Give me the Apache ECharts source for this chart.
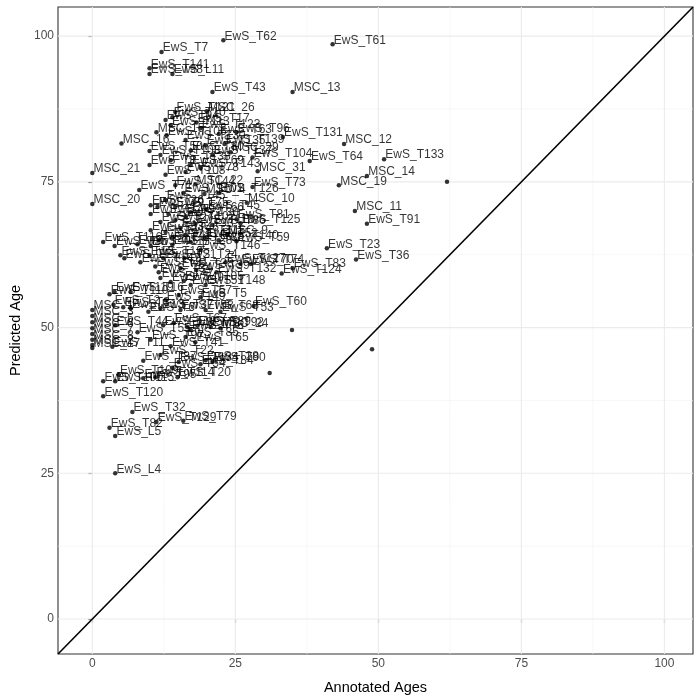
<!DOCTYPE html>
<html><head><meta charset="utf-8">
<script src="https://cdn.jsdelivr.net/npm/echarts@6/dist/echarts.min.js"></script>
<style>html,body{margin:0;padding:0;background:#fff}#c{width:700px;height:700px}</style>
</head><body><div id="c"></div>
<script>
const sampleNames = ["EwS_T62","EwS_T61","EwS_T7","EwS_T141","EwS_T98","EwS_L11","EwS_T43","MSC_13","MSC_26","EwS_T121",
"EwS_T10","EwS_T94","EwS_T17","EwS_T113","EwS_T123","MSC_15","EwS_T96","EwS_T63","EwS_T106","EwS_T131",
"EwS_T130","EwS_T139","MSC_12","MSC_16","EwS_T135","EwS_T50","EwS_T80","MSC_29","EwS_T103","EwS_T137",
"EwS_T104","EwS_T133","EwS_T138","EwS_T64","EwS_T8","EwS_T69","EwS_T143","MSC_31","EwS_T78","MSC_21",
"EwS_T108","MSC_14","","MSC_22","MSC_19","EwS_T144","EwS_T73","EwS_T71","EwS_T101","EwS_T126",
"MSC_4","EwS_T145","MSC_10","MSC_20","EwS_T26","EwS_T9","EwS_T75","EwS_T45","MSC_11","EwS_T66",
"EwS_T14","EwS_T99","EwS_T30","EwS_T81","EwS_T102","EwS_T27","EwS_T125","EwS_T118","EwS_T91","EwS_T86",
"EwS_T93","EwS_T33","EwS_T46","MSC_9","EwS_T111","EwS_T52","EwS_T142","EwS_T140","EwS_T42","EwS_T59",
"EwS_T88","EwS_T116","EwS_T40","EwS_T128","EwS_T35","EwS_T117","EwS_T23","EwS_T146","EwS_T12","EwS_T19",
"EwS_T15","EwS_T21","EwS_T24","EwS_T36","EwS_T127","EwS_T147","EwS_T70","EwS_T74","EwS_T31","EwS_T83",
"EwS_T38","EwS_T39","EwS_T132","EwS_T34","EwS_T124","EwS_T47","EwS_T105","EwS_T49","EwS_T51","EwS_T148",
"EwS_T119","EwS_T16","EwS_T110","EwS_T57","EwS_T5","EwS_T149","EwS_T2","EwS_T60","EwS_T3","EwS_T13",
"EwS_T37","MSC_1","EwS_T58","EwS_T68","EwS_T6","EwS_T53","MSC_3","MSC_5","EwS_T67","EwS_T44",
"EwS_T18","EwS_T89","EwS_T72","EwS_T92","MSC_6","MSC_24","EwS_T76","","EwS_T55","MSC_7",
"EwS_T85","MSC_8","EwS_T97","EwS_T65","MSC_2","EwS_T41","EwS_T11","MSC_17","","EwS_T22",
"EwS_T28","EwS_T87","EwS_T134","EwS_T90","EwS_T84","EwS_T54","","EwS_T109","EwS_T114","EwS_T20",
"EwS_T95","EwS_T100","EwS_T115","EwS_T120","EwS_T32","EwS_T79","EwS_T129","EwS_T82","EwS_L5","EwS_L4"];
const annotatedAges = [22.9,42.0,12.1,10.0,10.0,14.0,21.0,35.0,20.0,14.5,
14.0,12.8,18.2,13.7,18.9,11.2,25.2,22.1,13.0,33.3,
16.3,23.1,44.0,5.1,19.8,10.0,17.2,24.2,11.9,21.0,
28.0,51.0,13.7,38.0,10.0,17.2,18.9,28.9,16.3,0,
12.8,48.0,62.0,18.0,43.1,14.5,28.0,8.2,15.9,22.1,
19.6,12.8,27.0,0,10.2,11.4,14.5,20.0,45.9,17.2,
10.2,13.3,16.3,25.2,14.5,11.9,25.9,18.0,48.0,21.0,
15.4,10.2,12.8,23.5,16.3,19.6,14.0,22.1,11.6,25.2,
17.2,1.9,7.9,14.0,3.9,10.2,41.0,18.9,4.9,10.0,
5.6,12.4,16.1,46.1,23.3,8.4,25.9,27.7,11.0,35.0,
15.4,18.2,21.7,11.6,33.1,11.9,16.0,13.7,17.2,19.8,
3.9,6.7,3.0,15.1,18.9,12.8,3.7,28.2,5.4,6.7,
11.9,0,15.4,19.8,9.8,22.4,0,0,14.2,4.0,
12.4,18.4,16.6,20.7,0,22.4,17.2,34.9,7.9,0,
16.3,0,10.2,18.0,0,13.7,3.5,0,48.9,11.9,
19.8,8.9,15.1,21.0,18.9,14.0,31.0,4.6,11.0,14.9,
8.9,1.9,4.0,1.9,7.0,15.9,11.2,3.0,4.0,4.0];
const predictedAges = [99.3,98.6,97.3,94.5,93.5,93.5,90.4,90.4,87.1,87.0,
86.1,85.6,85.2,84.7,84.2,83.5,83.5,83.2,83.0,82.7,
82.2,81.5,81.5,81.6,81.3,80.3,80.4,80.1,79.6,79.6,
79.2,78.9,78.7,78.6,77.9,77.9,77.4,76.8,76.7,76.5,
76.2,76.0,75.0,74.6,74.4,74.4,74.1,73.6,73.1,73.1,
72.9,71.9,71.4,71.2,71.0,70.7,70.7,70.2,70.0,69.8,
69.5,69.5,69.1,68.6,68.4,68.1,67.9,67.8,67.8,67.6,
67.1,66.7,66.4,66.0,65.9,65.4,65.4,65.0,65.0,64.8,
64.7,64.7,64.3,64.2,64.0,64.0,63.6,63.3,62.4,62.4,
61.9,61.9,61.9,61.7,61.2,61.2,60.9,60.9,60.5,60.2,
60.2,59.9,59.5,59.5,59.3,58.5,58.0,57.8,57.3,57.3,
56.1,56.1,55.7,55.6,55.2,54.7,53.9,53.7,53.5,53.3,
53.3,53.0,53.0,53.0,52.7,52.7,52.0,50.9,50.8,50.4,
50.4,50.3,50.1,50.1,49.9,49.9,49.6,49.6,49.2,48.9,
48.4,47.9,47.9,47.5,47.0,46.8,46.7,46.5,46.3,45.3,
44.4,44.3,44.1,44.1,43.7,43.1,42.2,42.0,41.5,41.5,
41.3,40.8,40.8,38.2,35.5,34.0,33.8,32.8,31.4,25.0];
const tickValues = [0, 25, 50, 75, 100];
const minorValues = [12.5, 37.5, 62.5, 87.5];
const axisRange = [-6, 105];

const points = sampleNames.map((n, i) => ({name: n, value: [annotatedAges[i], predictedAges[i]]}));
const chart = echarts.init(document.getElementById('c'), null, {renderer: 'canvas'});
const FONT = '"Liberation Sans", Arial, sans-serif';
const axisCommon = {
  type: 'value', min: axisRange[0], max: axisRange[1],
  axisLine: {show: false},
  splitLine: {show: false},
  axisTick: {show: true, customValues: tickValues, length: 4, lineStyle: {color: '#333333', width: 1.1}},
  axisLabel: {customValues: tickValues, color: '#4D4D4D', fontSize: 12, fontFamily: FONT, margin: 4},
  nameLocation: 'middle',
  nameTextStyle: {color: '#000', fontSize: 14.5, fontFamily: FONT}
};
const gridSeries = [];
function addGrid(v, color, width) {
  gridSeries.push({type: 'line', data: [[v, axisRange[0]], [v, axisRange[1]]], symbol: 'none', silent: true, z: 0, lineStyle: {color: color, width: width}});
  gridSeries.push({type: 'line', data: [[axisRange[0], v], [axisRange[1], v]], symbol: 'none', silent: true, z: 0, lineStyle: {color: color, width: width}});
}
minorValues.forEach(v => addGrid(v, '#F2F2F2', 0.6));
tickValues.forEach(v => addGrid(v, '#EBEBEB', 1.1));

chart.setOption({
  animation: false,
  backgroundColor: '#fff',
  grid: {left: 57, right: 7, top: 7, bottom: 46, show: true, borderColor: '#333333', borderWidth: 1.1, backgroundColor: 'transparent'},
  xAxis: Object.assign({}, axisCommon, {name: 'Annotated Ages', nameGap: 26}),
  yAxis: Object.assign({}, axisCommon, {name: 'Predicted Age', nameGap: 35}),
  series: gridSeries.concat([
    {type: 'line', data: [[axisRange[0], axisRange[0]], [axisRange[1], axisRange[1]]], symbol: 'none', silent: true, z: 2,
     lineStyle: {color: '#000', width: 1.6}},
    {type: 'scatter', data: points, symbolSize: 4.5, z: 3,
     itemStyle: {color: '#000'},
     label: {show: true, position: 'right', distance: 0, offset: [-1, -4], formatter: p => p.name,
             color: '#000', fontSize: 12, fontFamily: FONT}}
  ])
});
</script></body></html>
